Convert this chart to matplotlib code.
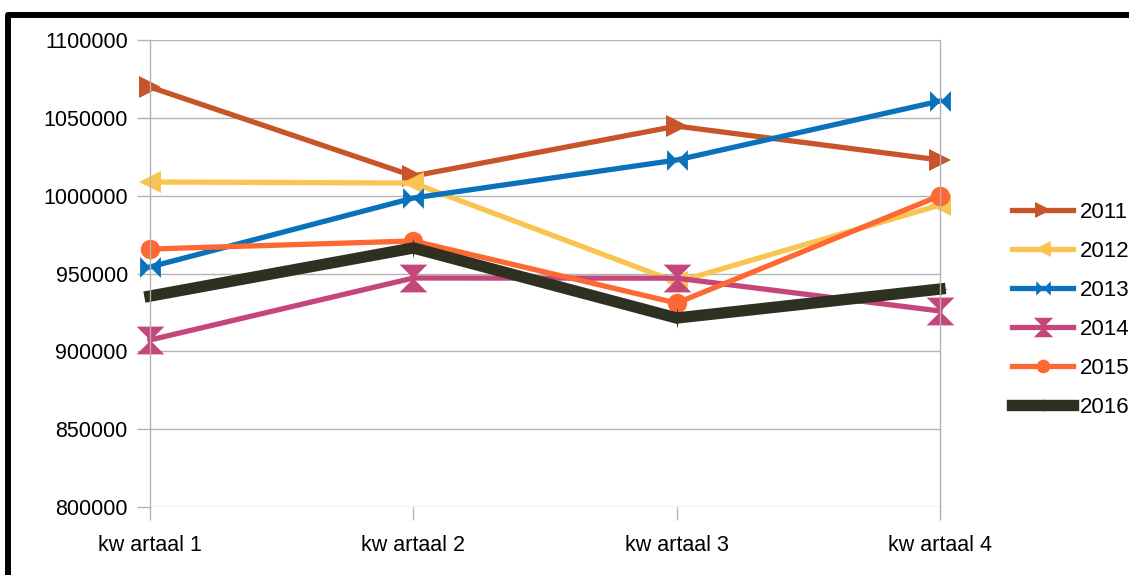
"""
Quarterly totals per year, line chart in office-suite style.
"""

import matplotlib
matplotlib.use("Agg")
import matplotlib.pyplot as plt
from matplotlib.path import Path
from matplotlib.patches import Rectangle

plt.rcParams['font.family'] = ['Liberation Sans', 'DejaVu Sans']

quarters = ["kw artaal 1", "kw artaal 2", "kw artaal 3", "kw artaal 4"]
years = ["2011", "2012", "2013", "2014", "2015", "2016"]

values_2011 = [1069800, 1012600, 1044700, 1022900]
values_2012 = [1008800, 1008100, 944500, 994000]
values_2013 = [954200, 998500, 1022900, 1060800]
values_2014 = [907300, 947100, 947000, 925900]
values_2015 = [965700, 970900, 931000, 1000000]
values_2016 = [935500, 966400, 921400, 940000]

y_ticks = [800000, 850000, 900000, 950000, 1000000, 1050000, 1100000]

# custom marker shapes
bowtie_h = Path([(-1, -1), (0, 0), (1, -1), (1, 1), (0, 0), (-1, 1), (-1, -1)],
                [Path.MOVETO] + [Path.LINETO] * 5 + [Path.CLOSEPOLY])
bowtie_v = Path([(-1, 1), (1, 1), (0, 0), (1, -1), (-1, -1), (0, 0), (-1, 1)],
                [Path.MOVETO] + [Path.LINETO] * 5 + [Path.CLOSEPOLY])
star4 = Path([(0, 1), (0.12, 0.12), (0.7, 0), (0.12, -0.12), (0, -1),
              (-0.12, -0.12), (-0.7, 0), (-0.12, 0.12), (0, 1)],
             [Path.MOVETO] + [Path.LINETO] * 7 + [Path.CLOSEPOLY])

series = [
    (values_2011, "#C8542A", ">", 16, 3.8),
    (values_2012, "#F9C550", "<", 16, 3.8),
    (values_2013, "#0A72BA", bowtie_h, 15, 3.8),
    (values_2014, "#C4467B", bowtie_v, 20, 3.8),
    (values_2015, "#FE6833", "o", 14, 3.8),
    (values_2016, "#2E3022", star4, 15, 8.2),
]

fig = plt.figure(figsize=(11.29, 5.75), dpi=100)
ax = fig.add_axes([150 / 1129, 68 / 575, 790 / 1129, 467 / 575])

x = list(range(len(quarters)))
for (vals, color, marker, ms, lw), year in zip(series, years):
    ax.plot(x, vals, color=color, lw=lw, marker=marker, markersize=ms,
            markeredgewidth=0, label=year, clip_on=False, solid_joinstyle='miter')

ax.set_xlim(0, 3)
ax.set_ylim(800000, 1100000)
ax.set_yticks(y_ticks)
ax.set_yticklabels([str(v) for v in y_ticks])
ax.set_xticks(x)
ax.set_xticklabels(quarters)

ax.grid(axis='y', color='#B3B3B3', lw=1)
ax.set_axisbelow(True)
for side in ['top', 'bottom']:
    ax.spines[side].set_visible(False)
for side in ['left', 'right']:
    ax.spines[side].set_color('#B3B3B3')
    ax.spines[side].set_linewidth(1)

ax.tick_params(axis='y', length=9.5, width=1, color='#B3B3B3', pad=6.5, labelsize=15.5)
ax.tick_params(axis='x', length=9.5, width=1, color='#B3B3B3', pad=11, labelsize=15.5)

fig.legend(loc='upper left', bbox_to_anchor=(1012 / 1129, 1 - 202 / 575),
           frameon=False, borderpad=0, borderaxespad=0, fontsize=16,
           handlelength=2.75, handletextpad=0.3, labelspacing=0.81,
           numpoints=1, markerscale=0.7)

# thick black frame, only top and left edges visible
frame = Rectangle((8 / 1129, -0.3), 1.5, 0.3 + 560.5 / 575, transform=fig.transFigure,
                  fill=False, edgecolor='black', lw=4.3, joinstyle='round', clip_on=False)
fig.patches.append(frame)

fig.savefig('out.png', dpi=100, facecolor='white')
